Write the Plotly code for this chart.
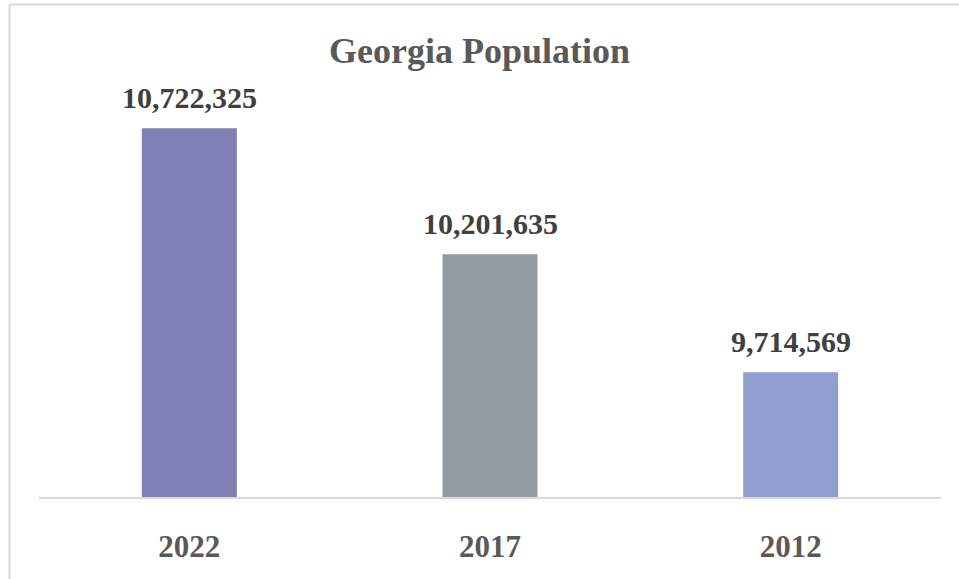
import plotly.graph_objects as go

years = ["2022", "2017", "2012"]
population = [10722325, 10201635, 9714569]
bar_colors = ["#7F7FB5", "#959BA3", "#919FD0"]

W, H = 959, 579
ML, MR, MT, MB = 39, 18, 90, 82
PW, PH = W - ML - MR, H - MT - MB

fig = go.Figure()
fig.add_trace(go.Bar(
    x=years,
    y=population,
    marker=dict(color=bar_colors, line=dict(width=0)),
    hoverinfo='x+y',
))

# value labels above the bars (category axis -> use index positions)
for i, val in enumerate(population):
    fig.add_annotation(
        x=i, y=val, text="<b>{:,}</b>".format(val),
        showarrow=False, yanchor='bottom', yshift=12,
        font=dict(family='Liberation Serif, serif', size=30, color='#404040'),
    )

# light frame around the chart (top and left edges visible)
fig.add_shape(type='line', xref='paper', yref='paper',
              x0=(9.5 - ML) / PW, x1=(W + 5 - ML) / PW,
              y0=1 + (MT - 4.5) / PH, y1=1 + (MT - 4.5) / PH,
              line=dict(color='#D9D9D9', width=2))
fig.add_shape(type='line', xref='paper', yref='paper',
              x0=(9.5 - ML) / PW, x1=(9.5 - ML) / PW,
              y0=-(MB + 5) / PH, y1=1 + (MT - 4.5) / PH,
              line=dict(color='#D9D9D9', width=2))

fig.update_layout(
    width=W, height=H,
    margin=dict(l=ML, r=MR, t=MT, b=MB),
    paper_bgcolor='white', plot_bgcolor='white',
    bargap=0.684,
    showlegend=False,
    title=dict(text="<b>Georgia Population</b>", x=0.5, xanchor='center',
               y=1 - 50 / H, yanchor='middle',
               font=dict(family='Liberation Serif, serif', size=36, color='#595959')),
    font=dict(family='Liberation Serif, serif', color='#595959'),
)
fig.update_xaxes(
    type='category', range=[-0.5, len(years) - 0.5], automargin=False,
    showline=True, linecolor='#D9D9D9', linewidth=1.5,
    showgrid=False, ticks='', ticklabelstandoff=21,
    tickfont=dict(family='Liberation Serif, serif', size=31, color='#595959'),
    tickprefix='<b>', ticksuffix='</b>',
)
fig.update_yaxes(
    range=[9200000, 10880000], visible=False, showgrid=False,
)

fig.write_html("out.html", config={'displayModeBar': False},
               post_script="document.body.style.margin='0';document.body.style.overflow='hidden';")
